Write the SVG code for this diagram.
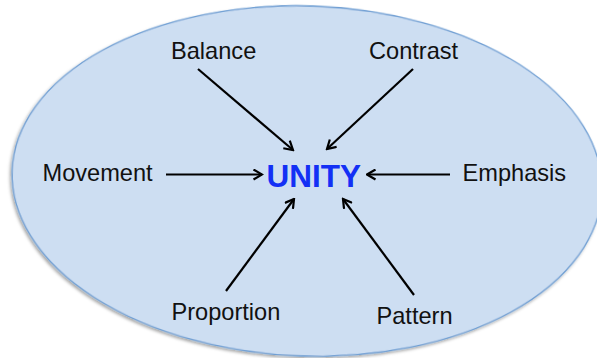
<svg xmlns="http://www.w3.org/2000/svg" width="597" height="358" viewBox="0 0 597 358">
<defs>
<style>
.lbl{font-family:"Liberation Sans",Arial,sans-serif;font-size:23.6px;fill:#111}
.unity{font-family:"Liberation Sans",Arial,sans-serif;font-size:31.5px;font-weight:bold;fill:#1330f5}
.conn line{stroke:#000;stroke-width:2.2;marker-end:url(#arr)}
</style>
<marker id="arr" viewBox="0 0 12 12" refX="10.5" refY="6" markerWidth="12" markerHeight="12" markerUnits="userSpaceOnUse" orient="auto">
<path d="M2,1 L10.5,6 L2,11" fill="none" stroke="#000" stroke-width="2.2"/>
</marker>
<filter id="sh" x="-10%" y="-10%" width="120%" height="120%">
<feDropShadow dx="-1.5" dy="2" stdDeviation="1.5" flood-color="#000" flood-opacity="0.35"/>
</filter>
</defs>
<rect width="597" height="358" fill="#fff"/>
<g id="oval">
<ellipse cx="307" cy="181" rx="295" ry="175" transform="rotate(2 307 181)" fill="#cddef2" stroke="#6e9ed3" stroke-width="1.3" filter="url(#sh)"/>
</g>
<g class="conn" id="connectors">
<line x1="198" y1="69" x2="293" y2="150"/>
<line x1="413" y1="69" x2="327" y2="149"/>
<line x1="166" y1="174.5" x2="262" y2="174.5"/>
<line x1="450" y1="174.5" x2="367" y2="174.5"/>
<line x1="226" y1="291" x2="294" y2="199"/>
<line x1="414" y1="295" x2="343" y2="199"/>
</g>
<g id="unity"><text class="unity" x="266.5" y="186.5">UNITY</text></g>
<g id="balance"><text class="lbl" x="171" y="59">Balance</text></g>
<g id="contrast"><text class="lbl" x="369" y="59">Contrast</text></g>
<g id="movement"><text class="lbl" x="42.5" y="181">Movement</text></g>
<g id="emphasis"><text class="lbl" x="462.5" y="181">Emphasis</text></g>
<g id="proportion"><text class="lbl" x="171.5" y="320">Proportion</text></g>
<g id="pattern"><text class="lbl" x="376.5" y="323.5">Pattern</text></g>
</svg>
